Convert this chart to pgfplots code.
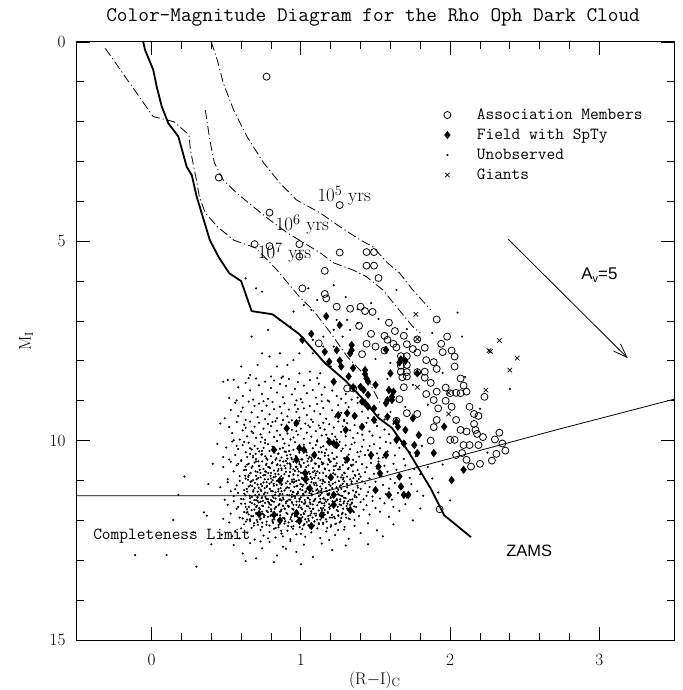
\documentclass[border=0pt]{standalone}
\usepackage{fontspec}
\usepackage{pgfplots}
\pgfplotsset{compat=1.18}
\usetikzlibrary{arrows.meta}
\newfontfamily\sansf{Liberation Sans}
\begin{document}
\begin{tikzpicture}[x=1bp,y=1bp]
\path[use as bounding box] (-77,-50) rectangle (606,640);
\begin{axis}[
  at={(0,0)}, anchor=south west,
  scale only axis, width=597bp, height=598bp,
  xmin=-0.5, xmax=3.5, ymin=0, ymax=15, y dir=reverse,
  xtick={0,1,2,3}, ytick={0,5,10,15},
  minor x tick num=4, minor y tick num=4,
  xtick pos=both, ytick pos=both,
  tick align=inside, major tick length=13bp, minor tick length=7bp,
  every tick/.style={black, line width=0.9bp},
  axis line style={line width=1bp},
  ticklabel style={font=\fontsize{19}{22}\selectfont},
  xticklabel style={anchor=center, yshift=-20bp},
  yticklabel style={anchor=east, xshift=-8bp},
  clip=false,
  legend style={draw=none, fill=none, inner sep=0pt, outer sep=0pt,
    at={(0.6114,0.8946)}, anchor=north west,
    font=\ttfamily\fontsize{17}{20}\selectfont, row sep=0pt,
    nodes={inner sep=2bp, text height=12bp, text depth=4bp},
    /tikz/every odd column/.append style={column sep=22bp}},
  legend cell align=left,
  myleg/.style={legend image code/.code={\path (-5bp,0bp) (5bp,0bp); \draw[##1] plot coordinates {(0bp,0bp)};}},
]
\addlegendimage{only marks, mark=o, mark size=3.5bp, line width=0.8bp, myleg}
\addlegendentry{Association Members}
\addlegendimage{only marks, mark=diamond*, mark size=3.8bp, myleg}
\addlegendentry{Field with SpTy}
\addlegendimage{only marks, mark=*, mark size=0.85bp, myleg}
\addlegendentry{Unobserved}
\addlegendimage{only marks, mark=x, mark size=3.2bp, line width=0.7bp, myleg}
\addlegendentry{Giants}

% ZAMS
\addplot[forget plot, black, line width=1.8bp] coordinates {
(-0.056,0) (-0.044,0.2) (0.011,0.70) (0.034,1.12) (0.068,1.62) (0.112,2.04) (0.179,2.37)
(0.235,3.13) (0.269,3.34) (0.302,3.88) (0.39,4.97) (0.45,5.4) (0.52,5.8) (0.60,6.0)
(0.67,6.75) (0.81,6.83) (0.99,7.33) (1.16,8.05) (1.30,8.5) (1.41,8.93) (1.52,9.43)
(1.61,9.68) (1.72,10.27) (1.87,11.2) (1.96,11.87) (2.14,12.42)};
% completeness limit
\addplot[forget plot, black, line width=0.8bp] coordinates {
(-0.5,11.38) (1.05,11.38) (1.5,10.95) (2.72,9.72) (3.5,8.96)};
% isochrones
\addplot[forget plot, black, line width=0.8bp, dash pattern=on 9bp off 3bp on 1.2bp off 3bp] coordinates {
(0.40,0.0) (0.44,0.45) (0.48,1.03) (0.55,1.71) (0.64,2.38) (0.75,3.03) (0.86,3.54) (0.97,3.96)
(1.13,4.29) (1.26,4.63) (1.40,4.97) (1.48,5.13) (1.58,5.54) (1.66,5.79) (1.75,6.22) (1.87,6.72)};
\addplot[forget plot, black, line width=0.8bp, dash pattern=on 9bp off 3bp on 1.2bp off 3bp] coordinates {
(0.36,1.71) (0.39,2.46) (0.42,3.03) (0.48,3.46) (0.57,3.79) (0.68,4.13) (0.79,4.46) (0.91,4.79)
(0.99,4.97) (1.13,5.29) (1.22,5.54) (1.35,5.72) (1.44,5.89) (1.55,6.22) (1.64,6.64) (1.75,7.14) (1.80,7.30)};
\addplot[forget plot, black, line width=0.8bp, dash pattern=on 9bp off 3bp on 1.2bp off 3bp] coordinates {
(-0.31,0.16) (0.01,1.87) (0.15,2.0) (0.25,2.33) (0.26,2.71) (0.30,3.46) (0.32,3.88) (0.36,4.29)
(0.44,4.63) (0.55,4.97) (0.70,5.17) (0.84,5.72) (0.99,6.39) (1.08,6.72) (1.20,7.30) (1.31,7.89)
(1.44,8.40) (1.53,9.05)};
% reddening vector
\addplot[forget plot, black, line width=0.8bp, -{Straight Barb[length=14bp,width=10bp]}] coordinates {(2.39,4.95) (3.19,7.93)};

% Unobserved
\addplot[forget plot, only marks, mark=*, mark size=0.85bp] coordinates {
(0.63,5.93) (0.70,6.18) (0.74,6.26) (1.05,6.18) (1.11,6.47) (1.02,6.60) (1.07,6.72) (0.95,6.76)
(0.86,6.97) (0.78,7.22) (0.93,7.14) (0.67,7.39) (0.74,7.81) (0.79,7.89) (0.71,8.10) (0.60,8.14)
(0.66,8.35) (0.84,8.14) (0.91,8.10) (0.95,7.98) (0.99,7.81) (1.08,7.81) (1.08,7.47) (1.15,7.39)
(1.22,7.22) (1.24,6.97) (1.31,6.97) (1.33,7.22) (1.15,7.64) (1.22,7.64) (1.28,7.39) (1.20,8.14)
(1.13,8.31) (1.06,8.27) (0.99,8.31) (0.88,8.39) (0.80,8.39) (0.86,7.81)
(1.64,6.22) (2.05,6.79) (2.08,7.39) (1.52,6.95) (1.71,7.20) (1.88,7.30) (1.38,7.05) (1.95,8.30)
(2.10,8.40) (2.20,9.20) (1.60,8.05) (1.75,8.60) (1.50,7.95) (1.85,9.10) (1.58,8.45) (1.70,9.15)
(2.25,10.3) (1.95,10.6) (1.88,10.95) (1.92,11.3) (1.80,11.7) (2.00,11.5) (1.62,12.1) (1.75,12.0)
(1.55,12.4) (1.45,12.6) (2.40,8.70) (1.47,6.55) (1.30,6.40) (1.22,6.10) (1.38,6.70)
(0.145,11.99) (0.18,11.36) (0.51,8.48) (0.35,11.8) (0.22,10.9) (0.28,12.3) (0.40,12.6)
(-0.11,12.87) (0.10,12.87) (0.30,13.16)
(0.48,8.52) (0.52,8.93) (0.55,8.47) (0.58,8.66) (0.61,8.88) (0.63,8.55) (0.66,8.74)
(0.68,8.97) (0.70,8.44) (0.72,8.61) (0.74,8.83) (0.76,8.52) (0.78,8.95) (0.80,8.68) (0.82,8.49)
(0.84,8.79) (0.86,8.58) (0.88,8.91) (0.90,8.63) (0.92,8.45) (0.94,8.84) (0.96,8.70) (0.98,8.53)
(1.00,8.96) (1.02,8.62) (1.04,8.81) (1.06,8.48) (1.08,8.73) (1.10,8.92) (1.12,8.57) (1.14,8.85)
(1.16,8.66) (1.18,8.99) (1.21,8.74) (1.24,8.88) (1.27,8.95) (1.30,8.83) (1.34,8.97) (1.38,8.92)
(0.57,8.99) (0.87,8.42) (1.11,8.43) (0.65,8.43) (0.97,8.99)
(0.49,9.44) (0.53,9.23) (0.56,9.05) (0.58,9.38) (0.61,9.17) (0.63,9.48)
(0.65,9.02) (0.67,9.29) (0.69,9.13) (0.71,9.41) (0.72,9.07) (0.74,9.25) (0.76,9.46) (0.77,9.12)
(0.79,9.34) (0.81,9.03) (0.82,9.21) (0.84,9.44) (0.86,9.15) (0.87,9.31) (0.89,9.06) (0.91,9.39)
(0.92,9.22) (0.94,9.49) (0.96,9.10) (0.97,9.28) (0.99,9.42) (1.01,9.04) (1.02,9.19) (1.04,9.36)
(1.06,9.13) (1.07,9.47) (1.09,9.26) (1.11,9.08) (1.13,9.33) (1.15,9.18) (1.17,9.45) (1.19,9.02)
(1.21,9.24) (1.23,9.40) (1.25,9.11) (1.27,9.30) (1.29,9.48) (1.32,9.16) (1.35,9.37) (1.38,9.05)
(1.41,9.27) (1.45,9.43) (1.48,9.21) (1.52,9.35) (1.56,9.47) (1.60,9.28) (0.75,9.01) (0.98,9.20)
(1.14,9.01) (0.60,9.27) (0.88,9.48) (1.30,9.05)
(0.46,9.57) (0.52,9.66) (0.54,9.81) (0.57,9.53) (0.59,9.97)
(0.61,9.74) (0.62,9.60) (0.64,9.89) (0.66,9.52) (0.67,9.77) (0.69,9.65) (0.70,9.93) (0.72,9.55)
(0.73,9.84) (0.75,9.70) (0.76,9.98) (0.78,9.58) (0.79,9.79) (0.80,9.63) (0.82,9.91) (0.83,9.51)
(0.84,9.75) (0.86,9.86) (0.87,9.60) (0.88,9.96) (0.90,9.68) (0.91,9.82) (0.92,9.54) (0.94,9.73)
(0.95,9.92) (0.96,9.61) (0.98,9.85) (0.99,9.50) (1.00,9.70) (1.02,9.95) (1.03,9.57) (1.04,9.80)
(1.06,9.66) (1.07,9.90) (1.08,9.53) (1.10,9.76) (1.11,9.99) (1.12,9.62) (1.14,9.87) (1.15,9.55)
(1.16,9.72) (1.18,9.94) (1.19,9.59) (1.21,9.83) (1.22,9.67) (1.24,9.97) (1.25,9.52) (1.27,9.78)
(1.28,9.64) (1.30,9.89) (1.31,9.56) (1.33,9.74) (1.35,9.93) (1.36,9.61) (1.38,9.81) (1.40,9.69)
(1.42,9.98) (1.44,9.55) (1.46,9.77) (1.48,9.87) (1.51,9.63) (1.53,9.92) (1.56,9.72) (1.59,9.84)
(1.62,9.58) (1.66,9.96) (1.70,9.79) (0.55,9.99) (0.68,9.81) (0.81,9.53) (0.93,9.97) (1.05,9.62)
(1.17,9.85) (1.29,9.51) (0.74,9.92) (0.97,9.76) (1.13,9.68) (1.23,9.90) (0.63,9.68) (1.41,9.85)
(1.50,9.54)
(0.44,10.08) (0.50,10.17) (0.52,10.47) (0.54,10.02) (0.56,10.36)
(0.58,10.21) (0.60,10.49) (0.61,10.11) (0.63,10.29) (0.64,10.41) (0.65,10.05) (0.67,10.22) (0.68,10.38)
(0.69,10.13) (0.70,10.46) (0.72,10.27) (0.73,10.03) (0.74,10.34) (0.75,10.18) (0.77,10.44) (0.78,10.09)
(0.79,10.26) (0.80,10.39) (0.81,10.15) (0.83,10.48) (0.84,10.01) (0.85,10.32) (0.86,10.20) (0.87,10.42)
(0.89,10.07) (0.90,10.28) (0.91,10.45) (0.92,10.12) (0.93,10.35) (0.95,10.23) (0.96,10.04) (0.97,10.40)
(0.98,10.16) (0.99,10.30) (1.01,10.47) (1.02,10.10) (1.03,10.25) (1.04,10.37) (1.06,10.06) (1.07,10.43)
(1.08,10.19) (1.09,10.33) (1.11,10.02) (1.12,10.28) (1.13,10.46) (1.15,10.14) (1.16,10.38) (1.17,10.22)
(1.19,10.49) (1.20,10.08) (1.21,10.31) (1.23,10.17) (1.24,10.41) (1.26,10.03) (1.27,10.26) (1.29,10.44)
(1.30,10.12) (1.32,10.35) (1.33,10.21) (1.35,10.48) (1.36,10.05) (1.38,10.29) (1.39,10.40) (1.41,10.15)
(1.43,10.36) (1.45,10.24) (1.47,10.45) (1.49,10.09) (1.51,10.32) (1.53,10.19) (1.55,10.42) (1.58,10.27)
(1.60,10.06) (1.63,10.37) (1.66,10.18) (1.69,10.46) (1.73,10.29) (1.77,10.39) (1.81,10.13) (0.57,10.13)
(0.66,10.33) (0.76,10.06) (0.82,10.29) (0.88,10.18) (0.94,10.47) (1.00,10.21) (1.05,10.45) (1.10,10.11)
(1.14,10.29) (1.18,10.04) (1.22,10.45) (1.28,10.20) (1.34,10.09) (1.40,10.27) (1.46,10.13) (1.52,10.44)
(0.71,10.20) (0.62,10.03) (1.57,10.03) (0.48,10.41) (0.92,10.26)
(0.41,10.58) (0.48,10.66) (0.51,10.97) (0.53,10.53) (0.55,10.77)
(0.57,10.62) (0.59,10.89) (0.60,10.51) (0.62,10.74) (0.63,10.95) (0.64,10.60) (0.66,10.82) (0.67,10.68)
(0.68,10.99) (0.69,10.55) (0.71,10.79) (0.72,10.64) (0.73,10.92) (0.74,10.52) (0.75,10.71) (0.76,10.86)
(0.77,10.58) (0.78,10.97) (0.79,10.67) (0.80,10.81) (0.81,10.54) (0.82,10.75) (0.83,10.90) (0.84,10.61)
(0.85,10.84) (0.86,10.50) (0.87,10.70) (0.88,10.94) (0.89,10.63) (0.90,10.78) (0.91,10.57) (0.92,10.88)
(0.93,10.69) (0.94,10.98) (0.95,10.53) (0.96,10.76) (0.97,10.65) (0.98,10.87) (0.99,10.59) (1.00,10.80)
(1.01,10.96) (1.02,10.56) (1.03,10.73) (1.04,10.91) (1.05,10.62) (1.06,10.83) (1.07,10.51) (1.08,10.69)
(1.09,10.93) (1.10,10.58) (1.11,10.77) (1.12,10.66) (1.13,10.99) (1.14,10.54) (1.15,10.81) (1.16,10.70)
(1.17,10.89) (1.18,10.60) (1.19,10.75) (1.20,10.52) (1.21,10.95) (1.22,10.64) (1.23,10.85) (1.24,10.57)
(1.25,10.72) (1.27,10.92) (1.28,10.61) (1.29,10.80) (1.30,10.55) (1.32,10.68) (1.33,10.97) (1.34,10.63)
(1.36,10.86) (1.37,10.53) (1.38,10.74) (1.40,10.90) (1.41,10.59) (1.43,10.79) (1.44,10.67) (1.46,10.95)
(1.47,10.56) (1.49,10.83) (1.51,10.70) (1.52,10.52) (1.54,10.88) (1.56,10.63) (1.58,10.78) (1.60,10.96)
(1.62,10.58) (1.64,10.73) (1.67,10.87) (1.70,10.62) (1.73,10.93) (1.76,10.71) (1.80,10.84) (1.85,10.66)
(0.65,10.87) (0.70,10.52) (0.76,10.77) (0.80,10.95) (0.85,10.71) (0.90,10.51) (0.95,10.84) (1.00,10.66)
(1.05,10.97) (1.10,10.82) (1.15,10.57) (1.20,10.86) (1.26,10.66) (1.31,10.90) (1.35,10.60) (1.39,10.84)
(0.58,10.58) (0.93,10.60) (1.08,10.79)
(0.38,11.09) (0.46,11.17) (0.49,11.48) (0.51,11.04) (0.53,11.27)
(0.55,11.39) (0.57,11.12) (0.58,11.31) (0.60,11.46) (0.61,11.06) (0.62,11.24) (0.63,11.37) (0.65,11.15)
(0.66,11.44) (0.67,11.02) (0.68,11.28) (0.69,11.19) (0.70,11.49) (0.71,11.10) (0.72,11.35) (0.73,11.23)
(0.74,11.42) (0.75,11.05) (0.76,11.30) (0.77,11.16) (0.78,11.47) (0.79,11.08) (0.80,11.26) (0.81,11.38)
(0.82,11.13) (0.83,11.45) (0.84,11.01) (0.85,11.21) (0.86,11.34) (0.87,11.11) (0.88,11.43) (0.89,11.25)
(0.90,11.07) (0.91,11.36) (0.92,11.18) (0.93,11.48) (0.94,11.03) (0.95,11.29) (0.96,11.40) (0.97,11.14)
(0.98,11.32) (0.99,11.46) (1.00,11.09) (1.01,11.24) (1.02,11.37) (1.03,11.02) (1.04,11.20) (1.05,11.44)
(1.06,11.12) (1.07,11.33) (1.08,11.27) (1.09,11.49) (1.10,11.06) (1.11,11.22) (1.12,11.39) (1.13,11.15)
(1.14,11.31) (1.15,11.45) (1.16,11.04) (1.17,11.26) (1.18,11.36) (1.19,11.10) (1.20,11.42) (1.21,11.19)
(1.22,11.30) (1.23,11.05) (1.24,11.47) (1.25,11.23) (1.26,11.14) (1.27,11.38) (1.28,11.08) (1.29,11.28)
(1.30,11.44) (1.31,11.17) (1.32,11.33) (1.34,11.02) (1.35,11.25) (1.36,11.41) (1.38,11.13) (1.39,11.35)
(1.40,11.21) (1.42,11.47) (1.43,11.07) (1.45,11.29) (1.46,11.16) (1.48,11.40) (1.50,11.03) (1.51,11.26)
(1.53,11.45) (1.55,11.11) (1.57,11.34) (1.59,11.20) (1.61,11.48) (1.63,11.06) (1.65,11.31) (1.68,11.18)
(1.71,11.43) (1.74,11.09) (1.78,11.27) (1.82,11.38) (1.86,11.14) (0.64,11.28) (0.71,11.41) (0.77,11.04)
(0.83,11.30) (0.86,11.47) (0.90,11.20) (0.94,11.35) (0.97,11.01) (1.00,11.42) (1.03,11.29) (1.06,11.48)
(1.09,11.11) (1.12,11.27) (1.15,11.01) (1.18,11.48) (1.22,11.42) (1.25,11.34) (1.29,11.02) (1.33,11.48)
(1.37,11.30) (1.41,11.02) (1.44,11.38) (0.74,11.14) (0.80,11.49) (0.87,11.27) (0.95,11.05) (1.01,11.15)
(1.07,11.04) (1.13,11.46) (1.19,11.32) (0.56,11.22) (0.59,11.01)
(0.37,11.88) (0.48,11.96) (0.51,11.61) (0.53,11.83) (0.55,11.52)
(0.57,11.71) (0.59,11.93) (0.60,11.58) (0.62,11.79) (0.63,11.66) (0.64,11.98) (0.66,11.54) (0.67,11.74)
(0.68,11.89) (0.69,11.60) (0.70,11.81) (0.71,11.51) (0.72,11.69) (0.73,11.95) (0.74,11.63) (0.75,11.85)
(0.76,11.56) (0.77,11.76) (0.78,11.91) (0.79,11.59) (0.80,11.72) (0.81,11.99) (0.82,11.53) (0.83,11.67)
(0.84,11.87) (0.85,11.62) (0.86,11.78) (0.87,11.50) (0.88,11.94) (0.89,11.70) (0.90,11.57) (0.91,11.84)
(0.92,11.65) (0.93,11.97) (0.94,11.54) (0.95,11.73) (0.96,11.90) (0.97,11.61) (0.98,11.80) (0.99,11.52)
(1.00,11.68) (1.01,11.92) (1.02,11.58) (1.03,11.77) (1.04,11.64) (1.05,11.96) (1.06,11.55) (1.07,11.82)
(1.08,11.71) (1.09,11.51) (1.10,11.88) (1.11,11.62) (1.12,11.75) (1.13,11.98) (1.14,11.57) (1.15,11.69)
(1.16,11.86) (1.17,11.53) (1.18,11.79) (1.20,11.63) (1.21,11.93) (1.22,11.56) (1.24,11.74) (1.25,11.87)
(1.26,11.60) (1.28,11.81) (1.29,11.52) (1.31,11.70) (1.32,11.95) (1.34,11.58) (1.35,11.77) (1.37,11.66)
(1.39,11.89) (1.40,11.54) (1.42,11.73) (1.44,11.62) (1.46,11.85) (1.48,11.51) (1.50,11.69) (1.53,11.78)
(1.56,11.57) (1.59,11.91) (1.62,11.66) (1.66,11.76) (1.70,11.59) (0.65,11.85) (0.70,11.66) (0.74,11.78)
(0.78,11.53) (0.82,11.81) (0.85,11.97) (0.88,11.64) (0.91,11.51) (0.94,11.86) (0.97,11.76) (1.00,11.95)
(1.03,11.54) (1.06,11.70) (1.09,11.83) (1.12,11.55) (1.15,11.92) (1.19,11.67) (1.23,11.52) (1.27,11.94)
(1.30,11.85) (1.33,11.61) (0.58,11.66) (0.61,11.95) (0.73,11.53) (0.80,11.87) (0.87,11.73) (0.95,11.61)
(1.02,11.84) (1.08,11.60) (1.16,11.74) (1.36,11.99)
(0.47,12.36) (0.52,12.05) (0.56,12.27) (0.59,12.45) (0.62,12.10) (0.64,12.31) (0.67,12.19)
(0.69,12.48) (0.71,12.04) (0.73,12.24) (0.75,12.38) (0.77,12.11) (0.79,12.29) (0.81,12.02) (0.83,12.43)
(0.85,12.17) (0.87,12.33) (0.89,12.08) (0.91,12.26) (0.93,12.47) (0.95,12.14) (0.97,12.35) (0.99,12.06)
(1.01,12.22) (1.03,12.41) (1.05,12.12) (1.07,12.30) (1.09,12.03) (1.11,12.20) (1.13,12.44) (1.15,12.09)
(1.17,12.28) (1.20,12.16) (1.23,12.37) (1.26,12.05) (1.29,12.23) (1.32,12.46) (1.36,12.14) (1.40,12.32)
(1.45,12.07) (1.51,12.25) (0.66,12.01) (0.74,12.16) (0.82,12.21) (0.88,12.40) (0.94,12.02) (1.00,12.34)
(1.06,12.18) (1.12,12.07) (1.19,12.49) (1.25,12.24) (0.60,12.20) (0.78,12.45) (1.04,12.04) (0.54,12.40)
(0.55,12.62) (0.61,12.83) (0.66,12.57) (0.70,12.95) (0.74,12.70) (0.79,12.54) (0.84,12.88) (0.88,12.66)
(0.93,12.52) (0.97,12.79) (1.02,12.61) (1.08,12.92) (1.14,12.58) (1.21,12.74) (0.82,13.05) (1.00,13.10)
(0.63,13.02) (0.90,12.71) (1.30,12.63) (0.73,12.53)
(0.627,10.88) (0.913,11.63) (1.184,10.37) (0.752,11.92) (1.047,11.16) (0.836,10.44) (1.312,11.58) (0.694,11.37)
(0.978,10.71) (1.236,12.08) (0.873,11.09) (1.121,10.63) (0.659,10.19) (0.947,12.21) (1.388,10.96) (0.781,10.81)
(1.063,11.87) (0.892,10.27) (1.271,11.21) (0.718,11.55) (1.006,10.93) (0.824,11.71) (1.152,11.44) (0.642,11.79)
(0.965,10.39) (1.339,11.07) (0.767,10.61) (1.091,12.02) (0.858,11.49) (1.217,10.82) (0.703,10.97) (1.027,11.58)
(0.931,11.26) (1.168,11.97) (0.789,12.13) (1.296,10.54) (0.674,11.14) (1.112,11.31) (0.846,10.76) (0.992,12.17)
(1.247,11.66) (0.736,10.35) (1.074,10.48) (0.903,11.81) (1.355,11.79) (0.615,11.47) (0.958,11.03) (1.198,11.13)
(0.812,11.27) (1.038,10.29) (0.687,12.07) (1.141,11.74) (0.869,12.26) (1.281,10.97) (0.757,11.19) (0.984,11.67)
(1.226,10.46) (0.651,10.58) (1.099,10.87) (0.925,10.57) (1.373,11.42) (0.799,11.61) (1.016,11.33) (0.724,10.73)
(1.177,12.19) (0.887,11.94) (1.264,11.47) (0.663,11.03) (1.052,10.78) (0.939,11.41) (1.133,10.17) (0.818,10.92)
(1.321,11.31) (0.743,11.83) (0.999,10.62) (1.208,11.86) (0.864,11.19) (1.084,11.52) (0.631,12.03) (0.951,10.86)
(1.162,10.72) (0.776,10.48) (1.349,10.77) (0.711,11.28) (1.024,12.09) (0.897,10.69) (1.254,11.01) (0.803,11.04)
(1.127,11.89) (0.679,10.42) (0.971,11.53) (1.189,11.59) (0.841,11.85) (1.058,10.41) (0.918,12.05) (1.303,11.93)
(0.762,11.41) (1.106,11.12) (0.652,11.66) (0.987,10.99) (1.233,10.63) (0.831,12.19) (1.069,11.77) (0.728,11.97)
(1.147,10.98) (0.882,10.52) (1.284,11.71) (0.696,10.77) (1.012,11.37) (0.943,11.71) (1.174,11.27) (0.794,10.69)
(1.336,10.61) (0.668,11.89) (1.041,10.84) (0.857,11.59) (1.216,11.39) (0.739,10.26) (1.088,12.13) (0.909,11.17)
(1.267,12.02) (0.621,11.33) (0.962,11.88) (1.196,10.54) (0.816,11.43) (1.031,11.01) (0.706,11.63) (1.158,11.63)
(0.874,10.97) (1.382,11.18) (0.771,12.03) (0.996,11.22) (1.243,11.28) (0.648,10.91) (1.117,10.44) (0.928,10.79)
(1.079,11.93) (0.851,12.11) (1.309,11.09) (0.749,10.87) (1.003,10.47) (1.181,11.81) (0.688,11.49) (0.954,11.39)
(1.228,11.95) (0.806,10.57) (1.046,11.43) (0.893,11.71) (1.139,11.21) (0.732,11.09) (1.277,10.86) (0.676,10.64)
(1.019,11.82) (0.936,10.43) (1.169,10.89) (0.784,11.67) (1.342,11.55) (0.713,12.11) (1.094,10.57) (0.862,10.62)
(1.203,12.12) (0.638,11.21) (0.976,11.13) (1.257,11.36) (0.821,11.97) (1.061,11.24) (0.901,11.53) (1.134,11.69)
(0.758,10.97) (1.293,12.16) (0.697,10.33) (1.008,11.72) (0.947,11.29) (1.187,11.04) (0.838,11.11) (1.365,10.88)
(0.659,11.97) (1.043,10.97) (0.877,11.34) (1.221,10.74) (0.745,11.51) (1.102,11.83) (0.919,10.89) (1.271,11.62)
(0.633,10.73) (0.969,12.03) (1.163,11.48) (0.792,11.21) (1.036,10.66) (0.715,10.52) (1.148,12.06) (0.866,11.77)
(1.316,10.71) (0.779,11.79) (0.994,11.47) (1.239,11.17) (0.682,11.24) (1.072,11.37) (0.914,12.14) (1.125,10.81)
(0.847,10.33) (1.289,11.43) (0.726,11.72) (1.021,10.77) (0.956,11.16) (1.193,11.71) (0.808,11.52) (1.357,11.65)
(0.664,10.81) (1.054,12.01) (0.889,10.84) (1.212,11.52) (0.761,10.39) (1.086,11.06) (0.934,11.92) (1.261,10.72)
(0.626,11.58) (0.989,10.53) (1.173,12.03) (0.853,11.38) (1.049,11.65) (0.701,11.84) (1.131,11.36) (0.921,11.48)
(1.327,11.97) (0.773,11.13) (1.014,11.11) (1.249,11.77) (0.692,11.06) (0.973,11.79) (1.206,10.96) (0.829,10.83)
(1.066,10.91) (0.906,10.37) (1.157,11.57) (0.741,12.06) (1.299,11.26) (0.671,11.41) (1.029,11.97) (0.949,10.72)
(1.185,10.46) (0.797,11.89) (1.371,11.28) (0.721,10.63) (1.097,11.46) (0.879,11.63) (1.231,12.09) (0.645,10.98)
(0.981,11.28) (1.144,11.08) (0.814,12.06) (1.057,11.31) (0.709,11.43) (1.118,10.94) (0.895,12.02) (1.274,11.84)
(0.766,10.78) (1.001,11.86) (0.941,11.56) (1.199,11.44) (0.843,10.59) (1.345,11.47) (0.685,12.13) (1.039,11.07)
(0.869,10.89) (1.214,11.08) (0.753,11.34) (1.109,11.98) (0.927,11.08) (1.286,10.93) (0.639,11.72) (0.967,10.66)
(1.178,11.34) (0.787,11.56) (1.045,10.52) (0.718,11.18) (1.136,11.26) (0.859,12.08) (1.313,11.73) (0.781,10.66)
(0.991,11.62) (1.246,10.91) (0.699,10.88) (1.083,11.71) (0.911,11.02) (1.161,10.31) (0.834,11.66) (1.263,11.52)
(0.734,11.26) (1.011,10.81) (0.961,11.44) (1.209,11.61) (0.818,11.08) (1.376,11.02) (0.657,11.38) (1.064,11.59)
(0.884,11.47) (1.223,11.91) (0.747,11.64) (1.092,10.76) (0.937,12.16) (1.268,11.12) (0.629,10.65) (0.979,11.92)
(1.191,11.24) (0.802,11.77) (1.034,11.27) (0.713,10.94) (1.153,11.81) (0.871,10.74) (1.306,11.64) (0.768,11.46)
(0.997,11.09) (1.241,11.49) (0.673,11.57) (1.075,10.96) (0.923,11.37) (1.129,11.53) (0.849,11.27) (1.294,10.82)
(0.729,10.81) (1.018,12.12) (0.953,10.97) (1.195,11.93) (0.811,10.99) (1.352,10.94) (0.661,11.12) (1.049,11.89)
(0.891,11.96) (1.218,11.32) (0.757,11.88) (1.104,11.24) (0.931,10.64) (1.279,11.39) (0.636,11.81) (0.973,11.34)
(1.167,11.19) (0.796,10.88) (1.026,11.49) (0.704,11.99) (1.143,10.59) (0.862,11.87) (1.318,11.52) (0.776,11.31)
(0.985,10.77) (1.252,11.89) (0.689,11.73) (1.071,11.19) (0.917,11.66) (1.122,12.09) (0.854,11.02) (1.285,11.57)
(0.737,11.44) (1.006,11.54) (0.944,11.83) (1.188,11.36) (0.826,11.36) (1.361,11.37)};

% Field with SpTy
\addplot[forget plot, only marks, mark=diamond*, mark size=3.8bp] coordinates {
(1.17,6.88) (1.26,7.10) (1.07,7.32) (1.01,7.47) (1.16,7.77) (1.24,7.73) (1.26,7.99) (1.19,8.02)
(1.34,7.60) (1.34,7.73) (1.33,7.81) (1.35,8.18) (1.43,8.23) (1.43,8.33) (1.44,8.44) (1.45,8.52)
(1.32,8.39) (1.27,8.14) (1.22,8.52) (1.35,8.66) (1.40,8.65) (1.50,8.60) (1.60,8.31) (1.66,8.04)
(1.67,7.96) (1.70,8.00) (1.78,8.31) (1.57,7.72) (1.62,8.77) (1.42,8.73) (1.45,8.85) (1.41,9.02)
(1.43,9.06) (1.45,9.15) (1.49,9.19) (1.57,9.06) (1.58,8.98) (1.61,8.98) (1.59,8.73) (1.61,8.90)
(1.31,9.31) (1.41,9.65) (1.30,9.73) (1.22,10.07) (1.58,9.40) (1.64,9.52) (1.65,9.65) (1.70,9.73)
(1.64,9.98) (1.75,9.44) (1.79,9.86) (1.76,10.11) (1.78,10.31) (1.69,10.07) (1.89,10.31) (1.96,9.65)
(2.09,10.73) (2.01,10.99) (1.57,10.36) (1.52,10.65) (1.66,10.90) (1.67,11.15) (1.59,11.36) (1.69,11.36)
(1.72,11.36) (1.47,10.36) (1.53,10.82) (1.50,11.24) (1.33,11.74) (1.09,10.36) (1.03,10.82) (1.03,10.97)
(1.14,11.86) (0.99,10.19) (0.905,9.69) (0.97,9.56) (0.82,10.23) (0.97,10.48) (1.02,10.23) (1.19,10.03)
(1.24,10.11) (1.25,9.36) (1.36,9.38) (1.31,10.47) (1.20,10.92) (1.06,11.20) (0.86,11.00) (0.72,11.84)
(0.82,11.86) (0.86,12.0) (0.99,12.01) (1.07,12.14) (1.22,11.61) (0.97,11.82) (1.49,9.48) (1.22,11.36)};

% Association Members
\addplot[forget plot, only marks, mark=o, mark size=3.5bp, line width=0.8bp] coordinates {
(0.77,0.87) (0.45,3.40) (0.79,4.28) (1.26,4.09) (0.99,5.07) (0.69,5.07) (0.79,5.12) (0.99,5.38)
(1.26,5.28) (1.44,5.27) (1.49,5.27) (1.44,5.61) (1.49,5.61) (1.16,5.74) (1.52,5.92) (1.01,6.18)
(1.16,6.32) (1.17,6.43) (1.24,6.64) (1.33,6.69) (1.40,6.64) (1.43,6.75) (1.48,6.77) (1.39,7.12)
(1.47,7.32) (1.12,7.56) (1.44,7.57) (1.50,7.64) (1.41,7.83) (1.59,7.04) (1.63,7.25) (1.69,7.37)
(1.56,7.37) (1.58,7.47) (1.62,7.57) (1.64,7.66) (1.71,7.58) (1.75,7.70) (1.78,7.46) (1.83,7.67)
(1.78,7.79) (1.56,7.74) (1.67,7.88) (1.71,7.88) (1.67,8.12) (1.71,8.10) (1.98,7.39) (1.91,6.96)
(1.94,7.57) (2.01,7.74) (1.95,7.78) (2.03,7.89) (1.84,7.98) (1.89,8.03) (1.91,8.20) (2.03,8.14)
(1.67,8.27) (1.71,8.28) (1.78,8.28) (1.83,8.27) (1.83,8.42) (1.68,8.41) (1.71,8.39) (1.87,8.55)
(1.91,8.77) (2.07,8.44) (2.09,8.62) (1.84,8.83) (1.69,8.66) (2.23,8.90) (1.97,8.67) (2.00,8.81)
(2.04,8.80) (2.07,8.81) (2.11,8.77) (1.66,8.96) (1.89,8.98) (1.97,9.00) (2.01,9.15) (1.92,9.19)
(2.13,9.15) (2.16,9.33) (2.19,9.38) (2.04,9.48) (2.16,9.58) (1.71,9.31) (1.78,9.33) (1.91,9.48)
(1.89,9.66) (2.07,9.73) (2.11,9.77) (2.17,9.73) (2.18,9.83) (2.22,9.91) (2.33,9.80) (2.30,9.97)
(2.35,10.07) (2.37,10.25) (2.31,10.33) (2.28,10.50) (2.20,10.58) (2.14,10.65) (2.11,10.48) (2.08,10.31)
(2.09,10.11) (2.13,10.11) (2.19,10.11) (2.04,10.36) (2.00,9.98) (2.03,9.98) (1.87,10.00) (1.93,11.72)
(1.31,8.69) (1.35,8.69) (1.64,9.50)};

% Giants
\addplot[forget plot, only marks, mark=x, mark size=3.2bp, line width=0.7bp] coordinates {
(1.77,6.83) (1.78,7.45) (2.33,7.49) (2.26,7.74) (2.27,7.76) (2.45,7.93) (2.40,8.23) (2.24,8.73)
(1.78,8.66) (1.99,8.80) (1.99,9.33)};

% text labels
\node[font=\fontsize{19}{22}\selectfont] at (axis cs:1.29,3.86) {10$^5$ yrs};
\node[font=\fontsize{19}{22}\selectfont] at (axis cs:1.01,4.59) {10$^6$ yrs};
\node[font=\fontsize{19}{22}\selectfont] at (axis cs:0.89,5.29) {10$^7$ yrs};
\node[font=\sansf\fontsize{17}{20}\selectfont] at (axis cs:3.0,5.85) {A\raisebox{-0.35ex}{\fontsize{11}{12}\selectfont v}=5};
\node[font=\ttfamily\fontsize{17}{20}\selectfont] at (axis cs:0.135,12.39) {Completeness Limit};
\node[font=\sansf\fontsize{16.5}{20}\selectfont] at (axis cs:2.53,12.77) {ZAMS};
\node[font=\ttfamily\fontsize{20.8}{24}\selectfont] at (axis description cs:0.496,1.0418) {Color–Magnitude Diagram for the Rho Oph Dark Cloud};
\node[font=\fontsize{17}{20}\selectfont] at (axis description cs:0.499,-0.0669) {(R$-$I)$_{\mathrm{C}}$};
\node[font=\fontsize{17}{20}\selectfont, rotate=90] at (axis description cs:-0.0854,0.5) {M$_{\mathrm{I}}$};
\end{axis}
\end{tikzpicture}
\end{document}
